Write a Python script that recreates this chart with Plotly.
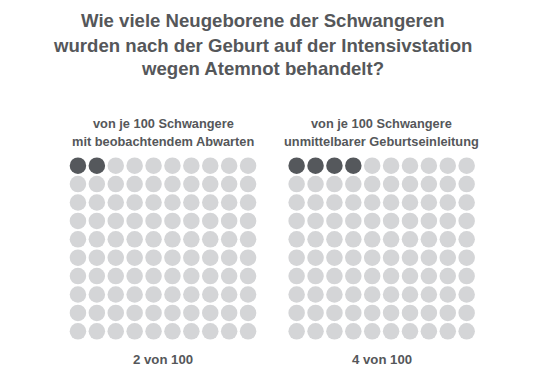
import plotly.graph_objects as go

title_lines = ["Wie viele Neugeborene der Schwangeren",
               "wurden nach der Geburt auf der Intensivstation",
               "wegen Atemnot behandelt?"]
group_labels = [["von je 100 Schwangere", "mit beobachtendem Abwarten"],
                ["von je 100 Schwangere", "unmittelbarer Geburtseinleitung"]]
affected = [2, 4]
totals = [100, 100]
footer_labels = ["2 von 100", "4 von 100"]

DARK = "#55585c"
LIGHT = "#d4d5d7"
TEXT = "#55575a"
FONT = "Liberation Sans, Arial, sans-serif"
W, H = 545, 375
COLS = 10

fig = go.Figure()

x_domains = [[68.5 / W, 257.5 / W], [287.2 / W, 476.1 / W]]
y_domain = [1 - 340.5 / H, 1 - 156.5 / H]

for g in range(2):
    xs, ys, cs = [], [], []
    for i in range(totals[g]):
        xs.append(i % COLS)
        ys.append(i // COLS)
        cs.append(DARK if i < affected[g] else LIGHT)
    ax = "" if g == 0 else "2"
    fig.add_trace(go.Scatter(
        x=xs, y=ys, mode="markers",
        marker=dict(size=16.5, color=cs, line=dict(width=0)),
        xaxis="x" + ax, yaxis="y" + ax, hoverinfo="skip", showlegend=False))

axis_common = dict(showgrid=False, zeroline=False, showticklabels=False,
                   showline=False, ticks="", fixedrange=True)
fig.update_layout(
    xaxis=dict(domain=x_domains[0], range=[-0.5, 9.5], **axis_common),
    yaxis=dict(domain=y_domain, range=[9.5, -0.5], **axis_common),
    xaxis2=dict(domain=x_domains[1], range=[-0.5, 9.5], anchor="y2", **axis_common),
    yaxis2=dict(domain=y_domain, range=[9.5, -0.5], anchor="x2", **axis_common),
)

annotations = []
title_y = [20, 45, 69]
for line, yy in zip(title_lines, title_y):
    annotations.append(dict(text="<b>" + line + "</b>", x=262.5 / W, y=1 - yy / H,
                            xref="paper", yref="paper", xanchor="center", yanchor="middle",
                            showarrow=False, font=dict(size=18.6, color=TEXT, family=FONT)))
centers = [(x_domains[g][0] + x_domains[g][1]) / 2 for g in range(2)]
for g in range(2):
    for k, yy in enumerate([123, 141]):
        annotations.append(dict(text="<b>" + group_labels[g][k] + "</b>", x=centers[g],
                                y=1 - yy / H, xref="paper", yref="paper",
                                xanchor="center", yanchor="middle", showarrow=False,
                                font=dict(size=12.8, color=TEXT, family=FONT)))
    annotations.append(dict(text="<b>" + footer_labels[g] + "</b>", x=centers[g],
                            y=1 - 359 / H, xref="paper", yref="paper",
                            xanchor="center", yanchor="middle", showarrow=False,
                            font=dict(size=13.2, color=TEXT, family=FONT)))

fig.update_layout(
    width=W, height=H, margin=dict(l=0, r=0, t=0, b=0),
    paper_bgcolor="white", plot_bgcolor="white",
    annotations=annotations, showlegend=False,
)

fig.write_html("out.html", config={"displayModeBar": False},
               post_script="document.body.style.margin='0';document.body.style.overflow='hidden';")
